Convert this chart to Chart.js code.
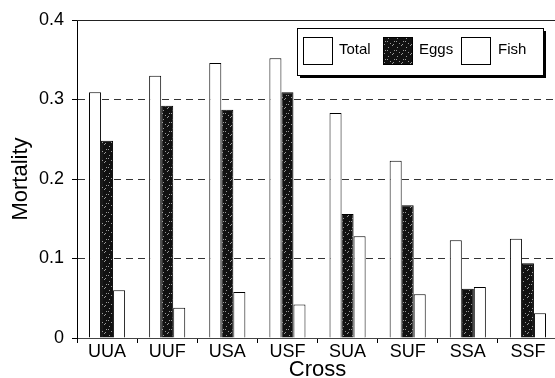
<!DOCTYPE html>
<html>
<head>
<meta charset="utf-8">
<script src="https://cdn.jsdelivr.net/npm/chart.js@4"></script>
<style>
    html, body { margin: 0; padding: 0; background: #fff; overflow: hidden; }
    #wrap { width: 560px; height: 378px; }
</style>
</head>
<body>
<div id="wrap"><canvas id="chart"></canvas></div>
<script>
// --- DATA ---
const crosses = ['UUA', 'UUF', 'USA', 'USF', 'SUA', 'SUF', 'SSA', 'SSF'];
const totalMortality = [0.309, 0.330, 0.346, 0.352, 0.283, 0.223, 0.123, 0.125];
const eggsMortality  = [0.248, 0.292, 0.287, 0.309, 0.156, 0.167, 0.062, 0.094];
const fishMortality  = [0.060, 0.038, 0.058, 0.042, 0.128, 0.055, 0.064, 0.031];
const yTicks = [0, 0.1, 0.2, 0.3, 0.4];

const FONT = 'Arial, "Liberation Sans", sans-serif';

// speckled black fill, like the scanned print
function speckle() {
    const c = document.createElement('canvas');
    c.width = 9; c.height = 9;
    const g = c.getContext('2d');
    g.fillStyle = '#111';
    g.fillRect(0, 0, 9, 9);
    g.fillStyle = '#9a9a9a';
    [[1, 2], [5, 0], [7, 5], [3, 7], [0, 5], [6, 8]].forEach(p => g.fillRect(p[0], p[1], 1, 1));
    return g.createPattern(c, 'repeat');
}
const eggsFill = speckle();

// --- boxed legend at top right, with a drop shadow ---
const boxLegend = {
    id: 'boxLegend',
    afterDraw(chart) {
        const ctx = chart.ctx;
        const x = 297, y = 28, w = 246, h = 47;
        ctx.save();
        ctx.fillStyle = '#000';
        ctx.fillRect(x + 3, y + 3, w, h);
        ctx.fillStyle = '#fff';
        ctx.fillRect(x, y, w, h);
        ctx.strokeStyle = '#000';
        ctx.lineWidth = 1;
        ctx.strokeRect(x + 0.5, y + 0.5, w, h);
        const items = [
            { label: chart.data.datasets[0].label, fill: '#fff', sx: 303, tx: 339 },
            { label: chart.data.datasets[1].label, fill: eggsFill, sx: 383, tx: 419 },
            { label: chart.data.datasets[2].label, fill: '#fff', sx: 461, tx: 498 }
        ];
        ctx.font = '15px ' + FONT;
        ctx.textBaseline = 'middle';
        items.forEach(it => {
            ctx.fillStyle = it.fill;
            ctx.fillRect(it.sx, 37, 29, 27);
            ctx.strokeStyle = '#000';
            ctx.strokeRect(it.sx + 0.5, 37.5, 29, 27);
            ctx.fillStyle = '#000';
            ctx.fillText(it.label, it.tx, 50);
        });
        ctx.restore();
    }
};

// solid top frame line at 0.4
const topFrame = {
    id: 'topFrame',
    afterDraw(chart) {
        const a = chart.chartArea;
        const ctx = chart.ctx;
        ctx.save();
        ctx.strokeStyle = '#222';
        ctx.lineWidth = 1;
        ctx.beginPath();
        ctx.moveTo(a.left, a.top + 0.5);
        ctx.lineTo(a.right, a.top + 0.5);
        ctx.stroke();
        ctx.restore();
    }
};

const barStyle = { borderColor: '#000', borderWidth: 1, categoryPercentage: 0.6, barPercentage: 1.0 };

new Chart(document.getElementById('chart').getContext('2d'), {
    type: 'bar',
    data: {
        labels: crosses,
        datasets: [
            Object.assign({ label: 'Total', data: totalMortality, backgroundColor: '#fff' }, barStyle),
            Object.assign({ label: 'Eggs', data: eggsMortality, backgroundColor: eggsFill }, barStyle),
            Object.assign({ label: 'Fish', data: fishMortality, backgroundColor: '#fff' }, barStyle)
        ]
    },
    options: {
        responsive: true,
        maintainAspectRatio: false,
        animation: false,
        layout: { padding: { top: 20, left: 0, right: 2, bottom: 0 } },
        scales: {
            x: {
                afterFit: s => { s.height = 40; },
                grid: { drawOnChartArea: false, color: '#000', tickLength: 5, offset: true },
                border: { display: true, color: '#444' },
                ticks: { color: '#000', font: { family: FONT, size: 18 }, padding: -2, maxRotation: 0 },
                title: { display: true, text: 'Cross', color: '#000', font: { family: FONT, size: 22 }, padding: { top: 0, bottom: -5 } }
            },
            y: {
                min: 0,
                max: 0.4,
                afterFit: s => { s.width = 77; },
                afterBuildTicks: s => { s.ticks = yTicks.map(v => ({ value: v })); },
                grid: {
                    color: ctx => (ctx.tick && (ctx.tick.value === 0 || ctx.tick.value === 0.4)) ? 'rgba(0,0,0,0)' : '#333',
                    tickColor: '#000',
                    tickLength: 5
                },
                border: { display: true, color: '#000', dash: [7, 5] },
                ticks: {
                    color: '#000',
                    font: { family: FONT, size: 18 },
                    padding: 8,
                    callback: v => v === 0 ? '0' : v.toFixed(1)
                },
                title: { display: true, text: 'Mortality', color: '#000', font: { family: FONT, size: 22 }, padding: { top: 8, bottom: 0 } }
            }
        },
        plugins: {
            legend: { display: false },
            tooltip: { enabled: false }
        }
    },
    plugins: [boxLegend, topFrame]
});
</script>
</body>
</html>
